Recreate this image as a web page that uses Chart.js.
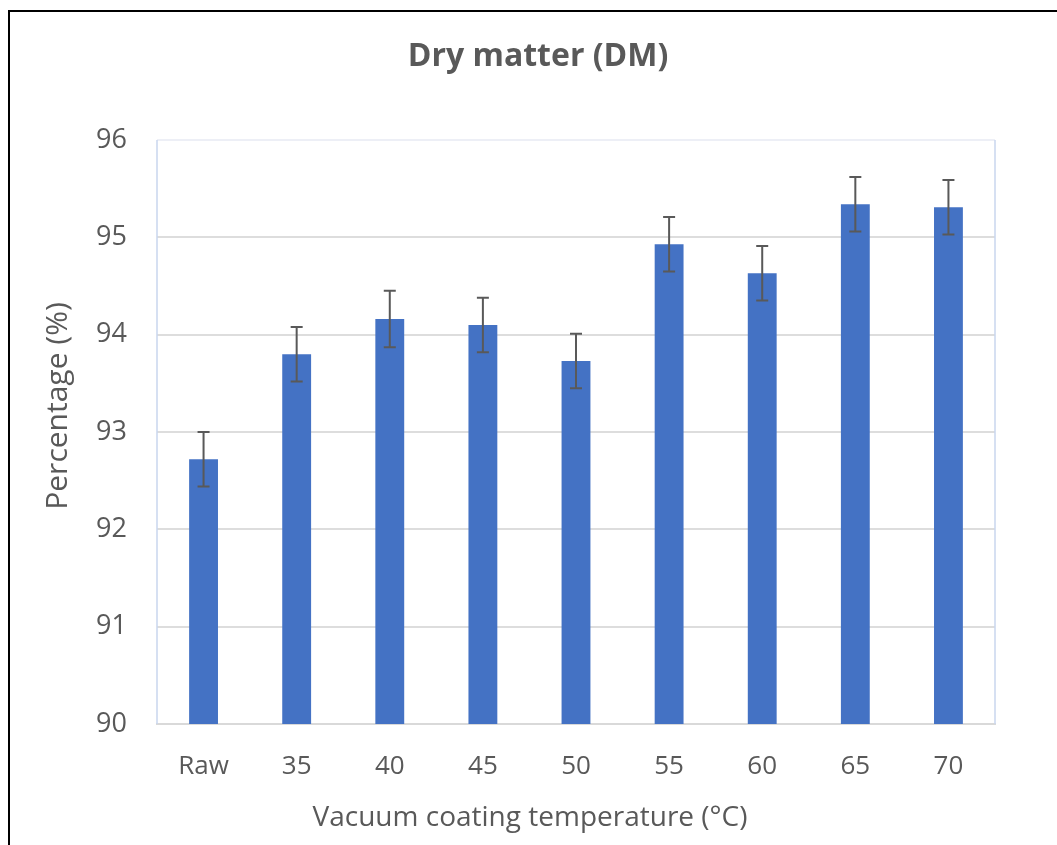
<!DOCTYPE html>
<html>
<head>
<meta charset="utf-8">
<script src="https://cdn.jsdelivr.net/npm/chart.js@4"></script>
<style>
  html, body { margin: 0; padding: 0; background: #fff; overflow: hidden; }
  #wrap { position: relative; width: 1057px; height: 845px; }
  #frame { position: absolute; left: 8px; top: 10px; width: 1200px; height: 1000px;
           border-left: 2px solid #000; border-top: 2px solid #000; pointer-events: none; }
</style>
</head>
<body>
<div id="wrap">
  <canvas id="chart" width="1057" height="845"></canvas>
  <div id="frame"></div>
</div>
<script>
var categories = ['Raw', '35', '40', '45', '50', '55', '60', '65', '70'];
var dryMatter = [92.72, 93.80, 94.16, 94.10, 93.73, 94.93, 94.63, 95.34, 95.31];
var errors = [0.28, 0.28, 0.29, 0.28, 0.28, 0.28, 0.28, 0.28, 0.28];
var yTicks = [90, 91, 92, 93, 94, 95, 96];

var textColor = '#595959';

// error bars drawn from the y scale
var errorBars = {
    id: 'errorBars',
    afterDatasetsDraw: function(chart) {
        var ctx = chart.ctx;
        var y = chart.scales.y;
        var meta = chart.getDatasetMeta(0);
        ctx.save();
        ctx.strokeStyle = '#595959';
        ctx.lineWidth = 2;
        meta.data.forEach(function(bar, i) {
            var top = y.getPixelForValue(dryMatter[i] + errors[i]);
            var bot = y.getPixelForValue(dryMatter[i] - errors[i]);
            ctx.beginPath();
            ctx.moveTo(bar.x, top); ctx.lineTo(bar.x, bot);
            ctx.moveTo(bar.x - 6, top); ctx.lineTo(bar.x + 6, top);
            ctx.moveTo(bar.x - 6, bot); ctx.lineTo(bar.x + 6, bot);
            ctx.stroke();
        });
        ctx.restore();
    }
};

// plot area border + titles placed the way excel places them
var plotFrame = {
    id: 'plotFrame',
    beforeDatasetsDraw: function(chart) {
        var a = chart.chartArea, ctx = chart.ctx;
        ctx.save();
        ctx.lineWidth = 1.5;
        ctx.strokeStyle = '#EDEFF6';
        ctx.beginPath(); ctx.moveTo(a.left, a.top); ctx.lineTo(a.right, a.top); ctx.stroke();
        ctx.strokeStyle = '#C9D6EE';
        ctx.beginPath();
        ctx.moveTo(a.left, a.top); ctx.lineTo(a.left, a.bottom);
        ctx.moveTo(a.right, a.top); ctx.lineTo(a.right, a.bottom);
        ctx.stroke();
        ctx.restore();
    },
    afterDraw: function(chart) {
        var ctx = chart.ctx;
        ctx.save();
        ctx.fillStyle = textColor;
        ctx.textAlign = 'center';
        ctx.textBaseline = 'middle';
        ctx.font = 'bold 32px "Open Sans"';
        ctx.fillText('Dry matter (DM)', 538, 57);
        ctx.font = '28px "Open Sans"';
        ctx.fillText('Vacuum coating temperature (°C)', 530, 818);
        ctx.translate(58, 406);
        ctx.rotate(-Math.PI / 2);
        ctx.font = '30px "Open Sans"';
        ctx.fillText('Percentage (%)', 0, 0);
        ctx.restore();
    }
};

var ctx = document.getElementById('chart').getContext('2d');
var chart = new Chart(ctx, {
    type: 'bar',
    data: {
        labels: categories,
        datasets: [{
            label: 'Dry matter',
            data: dryMatter,
            backgroundColor: '#4472C4',
            borderWidth: 0,
            barPercentage: 0.31,
            categoryPercentage: 1
        }]
    },
    options: {
        responsive: false,
        animation: false,
        layout: { padding: { left: 18, right: 62, top: 140, bottom: 0 } },
        plugins: {
            legend: { display: false },
            tooltip: { enabled: false },
            title: { display: false }
        },
        scales: {
            x: {
                grid: { display: false, drawTicks: false },
                border: { color: '#D9D9D9', width: 2 },
                ticks: { color: textColor, font: { family: 'Open Sans', size: 26 }, padding: 27 },
                afterFit: function(s) { s.height = 121; }
            },
            y: {
                min: 90,
                max: 96,
                grid: {
                    drawTicks: false,
                    lineWidth: 2,
                    color: function(c) { return c.tick && c.tick.value === 96 ? '#EDEFF6' : '#DDDDDD'; }
                },
                border: { display: false },
                afterBuildTicks: function(s) { s.ticks = yTicks.map(function(v) { return { value: v }; }); },
                ticks: { color: textColor, font: { family: 'Open Sans', size: 27 }, padding: 30 },
                afterFit: function(s) { s.width = 139; }
            }
        }
    },
    plugins: [errorBars, plotFrame]
});
</script>
</body>
</html>
